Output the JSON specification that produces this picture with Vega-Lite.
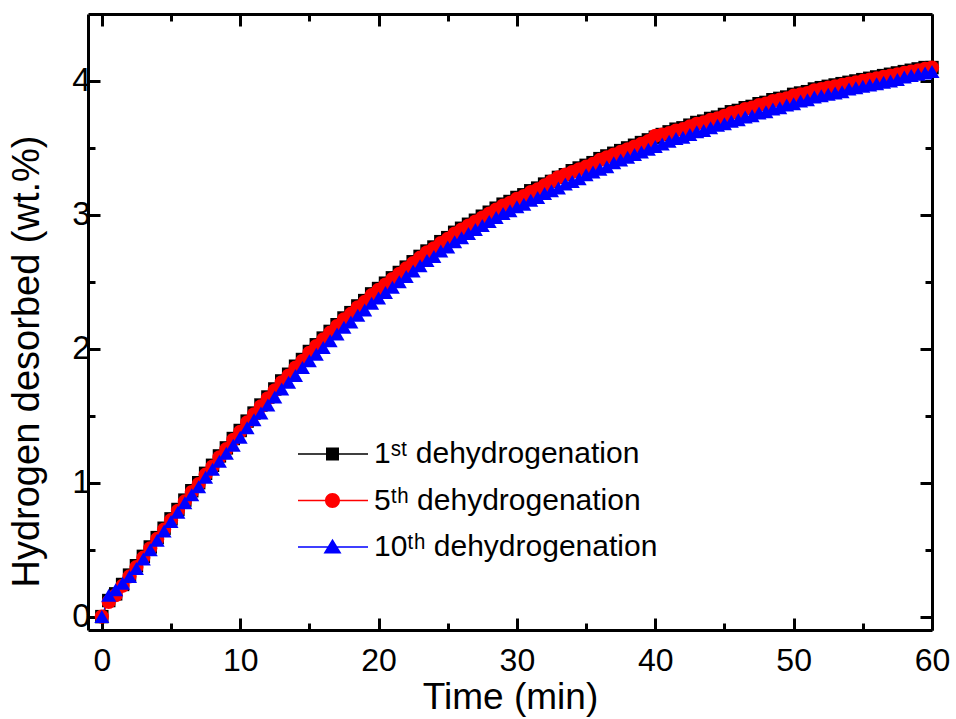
{
"$schema": "https://vega.github.io/schema/vega-lite/v6.json",
"width": 844, "height": 616,
"autosize": {"type": "none"},
"padding": {"left": 88, "top": 14, "right": 24, "bottom": 89},
"config": {"view": {"stroke": null}, "font": "Liberation Sans"},
"datasets": {
"pts": [
{"t":0,"s":"1st","v":0},{"t":0.5,"s":"1st","v":0.12},{"t":1,"s":"1st","v":0.17},{"t":1.5,"s":"1st","v":0.24},{"t":2,"s":"1st","v":0.31},{"t":2.5,"s":"1st","v":0.38},{"t":3,"s":"1st","v":0.45},{"t":3.5,"s":"1st","v":0.52},{"t":4,"s":"1st","v":0.59},{"t":4.5,"s":"1st","v":0.66},{"t":5,"s":"1st","v":0.73},{"t":5.5,"s":"1st","v":0.80},{"t":6,"s":"1st","v":0.87},{"t":6.5,"s":"1st","v":0.94},{"t":7,"s":"1st","v":1.00},{"t":7.5,"s":"1st","v":1.07},{"t":8,"s":"1st","v":1.13},{"t":8.5,"s":"1st","v":1.20},{"t":9,"s":"1st","v":1.26},{"t":9.5,"s":"1st","v":1.33},{"t":10,"s":"1st","v":1.39},{"t":10.5,"s":"1st","v":1.46},{"t":11,"s":"1st","v":1.52},{"t":11.5,"s":"1st","v":1.58},{"t":12,"s":"1st","v":1.64},{"t":12.5,"s":"1st","v":1.70},{"t":13,"s":"1st","v":1.76},{"t":13.5,"s":"1st","v":1.81},{"t":14,"s":"1st","v":1.87},{"t":14.5,"s":"1st","v":1.92},{"t":15,"s":"1st","v":1.98},{"t":15.5,"s":"1st","v":2.03},{"t":16,"s":"1st","v":2.08},{"t":16.5,"s":"1st","v":2.13},{"t":17,"s":"1st","v":2.18},{"t":17.5,"s":"1st","v":2.23},{"t":18,"s":"1st","v":2.27},{"t":18.5,"s":"1st","v":2.32},{"t":19,"s":"1st","v":2.36},{"t":19.5,"s":"1st","v":2.41},{"t":20,"s":"1st","v":2.45},{"t":20.5,"s":"1st","v":2.49},{"t":21,"s":"1st","v":2.53},{"t":21.5,"s":"1st","v":2.57},{"t":22,"s":"1st","v":2.61},{"t":22.5,"s":"1st","v":2.65},{"t":23,"s":"1st","v":2.69},{"t":23.5,"s":"1st","v":2.73},{"t":24,"s":"1st","v":2.76},{"t":24.5,"s":"1st","v":2.80},{"t":25,"s":"1st","v":2.83},{"t":25.5,"s":"1st","v":2.87},{"t":26,"s":"1st","v":2.90},{"t":26.5,"s":"1st","v":2.93},{"t":27,"s":"1st","v":2.96},{"t":27.5,"s":"1st","v":2.99},{"t":28,"s":"1st","v":3.02},{"t":28.5,"s":"1st","v":3.05},{"t":29,"s":"1st","v":3.08},{"t":29.5,"s":"1st","v":3.10},{"t":30,"s":"1st","v":3.13},{"t":30.5,"s":"1st","v":3.15},{"t":31,"s":"1st","v":3.18},{"t":31.5,"s":"1st","v":3.20},{"t":32,"s":"1st","v":3.23},{"t":32.5,"s":"1st","v":3.25},{"t":33,"s":"1st","v":3.28},{"t":33.5,"s":"1st","v":3.30},{"t":34,"s":"1st","v":3.33},{"t":34.5,"s":"1st","v":3.35},{"t":35,"s":"1st","v":3.37},{"t":35.5,"s":"1st","v":3.39},{"t":36,"s":"1st","v":3.42},{"t":36.5,"s":"1st","v":3.44},{"t":37,"s":"1st","v":3.46},{"t":37.5,"s":"1st","v":3.48},{"t":38,"s":"1st","v":3.50},{"t":38.5,"s":"1st","v":3.52},{"t":39,"s":"1st","v":3.54},{"t":39.5,"s":"1st","v":3.56},{"t":40,"s":"1st","v":3.58},{"t":40.5,"s":"1st","v":3.60},{"t":41,"s":"1st","v":3.62},{"t":41.5,"s":"1st","v":3.64},{"t":42,"s":"1st","v":3.65},{"t":42.5,"s":"1st","v":3.67},{"t":43,"s":"1st","v":3.69},{"t":43.5,"s":"1st","v":3.70},{"t":44,"s":"1st","v":3.72},{"t":44.5,"s":"1st","v":3.73},{"t":45,"s":"1st","v":3.75},{"t":45.5,"s":"1st","v":3.77},{"t":46,"s":"1st","v":3.78},{"t":46.5,"s":"1st","v":3.80},{"t":47,"s":"1st","v":3.81},{"t":47.5,"s":"1st","v":3.83},{"t":48,"s":"1st","v":3.84},{"t":48.5,"s":"1st","v":3.86},{"t":49,"s":"1st","v":3.87},{"t":49.5,"s":"1st","v":3.88},{"t":50,"s":"1st","v":3.90},{"t":50.5,"s":"1st","v":3.91},{"t":51,"s":"1st","v":3.92},{"t":51.5,"s":"1st","v":3.94},{"t":52,"s":"1st","v":3.95},{"t":52.5,"s":"1st","v":3.96},{"t":53,"s":"1st","v":3.97},{"t":53.5,"s":"1st","v":3.98},{"t":54,"s":"1st","v":3.99},{"t":54.5,"s":"1st","v":4.00},{"t":55,"s":"1st","v":4.01},{"t":55.5,"s":"1st","v":4.02},{"t":56,"s":"1st","v":4.03},{"t":56.5,"s":"1st","v":4.04},{"t":57,"s":"1st","v":4.05},{"t":57.5,"s":"1st","v":4.06},{"t":58,"s":"1st","v":4.07},{"t":58.5,"s":"1st","v":4.08},{"t":59,"s":"1st","v":4.09},{"t":59.5,"s":"1st","v":4.10},{"t":60,"s":"1st","v":4.10},
{"t":0,"s":"5th","v":0},{"t":0.5,"s":"5th","v":0.11},{"t":1,"s":"5th","v":0.16},{"t":1.5,"s":"5th","v":0.23},{"t":2,"s":"5th","v":0.30},{"t":2.5,"s":"5th","v":0.37},{"t":3,"s":"5th","v":0.44},{"t":3.5,"s":"5th","v":0.51},{"t":4,"s":"5th","v":0.58},{"t":4.5,"s":"5th","v":0.65},{"t":5,"s":"5th","v":0.72},{"t":5.5,"s":"5th","v":0.79},{"t":6,"s":"5th","v":0.86},{"t":6.5,"s":"5th","v":0.93},{"t":7,"s":"5th","v":0.99},{"t":7.5,"s":"5th","v":1.06},{"t":8,"s":"5th","v":1.12},{"t":8.5,"s":"5th","v":1.19},{"t":9,"s":"5th","v":1.25},{"t":9.5,"s":"5th","v":1.32},{"t":10,"s":"5th","v":1.38},{"t":10.5,"s":"5th","v":1.45},{"t":11,"s":"5th","v":1.51},{"t":11.5,"s":"5th","v":1.57},{"t":12,"s":"5th","v":1.63},{"t":12.5,"s":"5th","v":1.69},{"t":13,"s":"5th","v":1.75},{"t":13.5,"s":"5th","v":1.80},{"t":14,"s":"5th","v":1.86},{"t":14.5,"s":"5th","v":1.91},{"t":15,"s":"5th","v":1.97},{"t":15.5,"s":"5th","v":2.02},{"t":16,"s":"5th","v":2.07},{"t":16.5,"s":"5th","v":2.12},{"t":17,"s":"5th","v":2.17},{"t":17.5,"s":"5th","v":2.22},{"t":18,"s":"5th","v":2.26},{"t":18.5,"s":"5th","v":2.31},{"t":19,"s":"5th","v":2.35},{"t":19.5,"s":"5th","v":2.40},{"t":20,"s":"5th","v":2.44},{"t":20.5,"s":"5th","v":2.48},{"t":21,"s":"5th","v":2.52},{"t":21.5,"s":"5th","v":2.56},{"t":22,"s":"5th","v":2.60},{"t":22.5,"s":"5th","v":2.64},{"t":23,"s":"5th","v":2.68},{"t":23.5,"s":"5th","v":2.72},{"t":24,"s":"5th","v":2.75},{"t":24.5,"s":"5th","v":2.79},{"t":25,"s":"5th","v":2.82},{"t":25.5,"s":"5th","v":2.86},{"t":26,"s":"5th","v":2.89},{"t":26.5,"s":"5th","v":2.92},{"t":27,"s":"5th","v":2.95},{"t":27.5,"s":"5th","v":2.98},{"t":28,"s":"5th","v":3.01},{"t":28.5,"s":"5th","v":3.04},{"t":29,"s":"5th","v":3.07},{"t":29.5,"s":"5th","v":3.09},{"t":30,"s":"5th","v":3.12},{"t":30.5,"s":"5th","v":3.14},{"t":31,"s":"5th","v":3.17},{"t":31.5,"s":"5th","v":3.19},{"t":32,"s":"5th","v":3.22},{"t":32.5,"s":"5th","v":3.25},{"t":33,"s":"5th","v":3.28},{"t":33.5,"s":"5th","v":3.30},{"t":34,"s":"5th","v":3.32},{"t":34.5,"s":"5th","v":3.34},{"t":35,"s":"5th","v":3.36},{"t":35.5,"s":"5th","v":3.38},{"t":36,"s":"5th","v":3.41},{"t":36.5,"s":"5th","v":3.43},{"t":37,"s":"5th","v":3.45},{"t":37.5,"s":"5th","v":3.47},{"t":38,"s":"5th","v":3.49},{"t":38.5,"s":"5th","v":3.51},{"t":39,"s":"5th","v":3.53},{"t":39.5,"s":"5th","v":3.55},{"t":40,"s":"5th","v":3.59},{"t":40.5,"s":"5th","v":3.60},{"t":41,"s":"5th","v":3.61},{"t":41.5,"s":"5th","v":3.63},{"t":42,"s":"5th","v":3.64},{"t":42.5,"s":"5th","v":3.66},{"t":43,"s":"5th","v":3.68},{"t":43.5,"s":"5th","v":3.69},{"t":44,"s":"5th","v":3.71},{"t":44.5,"s":"5th","v":3.72},{"t":45,"s":"5th","v":3.74},{"t":45.5,"s":"5th","v":3.76},{"t":46,"s":"5th","v":3.77},{"t":46.5,"s":"5th","v":3.79},{"t":47,"s":"5th","v":3.80},{"t":47.5,"s":"5th","v":3.82},{"t":48,"s":"5th","v":3.83},{"t":48.5,"s":"5th","v":3.85},{"t":49,"s":"5th","v":3.86},{"t":49.5,"s":"5th","v":3.87},{"t":50,"s":"5th","v":3.89},{"t":50.5,"s":"5th","v":3.90},{"t":51,"s":"5th","v":3.91},{"t":51.5,"s":"5th","v":3.93},{"t":52,"s":"5th","v":3.94},{"t":52.5,"s":"5th","v":3.95},{"t":53,"s":"5th","v":3.96},{"t":53.5,"s":"5th","v":3.97},{"t":54,"s":"5th","v":3.98},{"t":54.5,"s":"5th","v":3.99},{"t":55,"s":"5th","v":4.00},{"t":55.5,"s":"5th","v":4.01},{"t":56,"s":"5th","v":4.02},{"t":56.5,"s":"5th","v":4.03},{"t":57,"s":"5th","v":4.04},{"t":57.5,"s":"5th","v":4.05},{"t":58,"s":"5th","v":4.06},{"t":58.5,"s":"5th","v":4.07},{"t":59,"s":"5th","v":4.08},{"t":59.5,"s":"5th","v":4.09},{"t":60,"s":"5th","v":4.10},
{"t":0,"s":"10th","v":0},{"t":0.5,"s":"10th","v":0.16},{"t":1,"s":"10th","v":0.20},{"t":1.5,"s":"10th","v":0.25},{"t":2,"s":"10th","v":0.30},{"t":2.5,"s":"10th","v":0.36},{"t":3,"s":"10th","v":0.43},{"t":3.5,"s":"10th","v":0.50},{"t":4,"s":"10th","v":0.57},{"t":4.5,"s":"10th","v":0.64},{"t":5,"s":"10th","v":0.71},{"t":5.5,"s":"10th","v":0.78},{"t":6,"s":"10th","v":0.85},{"t":6.5,"s":"10th","v":0.91},{"t":7,"s":"10th","v":0.97},{"t":7.5,"s":"10th","v":1.04},{"t":8,"s":"10th","v":1.10},{"t":8.5,"s":"10th","v":1.16},{"t":9,"s":"10th","v":1.22},{"t":9.5,"s":"10th","v":1.28},{"t":10,"s":"10th","v":1.34},{"t":10.5,"s":"10th","v":1.41},{"t":11,"s":"10th","v":1.47},{"t":11.5,"s":"10th","v":1.52},{"t":12,"s":"10th","v":1.58},{"t":12.5,"s":"10th","v":1.64},{"t":13,"s":"10th","v":1.70},{"t":13.5,"s":"10th","v":1.75},{"t":14,"s":"10th","v":1.80},{"t":14.5,"s":"10th","v":1.86},{"t":15,"s":"10th","v":1.91},{"t":15.5,"s":"10th","v":1.96},{"t":16,"s":"10th","v":2.01},{"t":16.5,"s":"10th","v":2.06},{"t":17,"s":"10th","v":2.11},{"t":17.5,"s":"10th","v":2.16},{"t":18,"s":"10th","v":2.20},{"t":18.5,"s":"10th","v":2.25},{"t":19,"s":"10th","v":2.29},{"t":19.5,"s":"10th","v":2.34},{"t":20,"s":"10th","v":2.38},{"t":20.5,"s":"10th","v":2.42},{"t":21,"s":"10th","v":2.46},{"t":21.5,"s":"10th","v":2.50},{"t":22,"s":"10th","v":2.54},{"t":22.5,"s":"10th","v":2.58},{"t":23,"s":"10th","v":2.62},{"t":23.5,"s":"10th","v":2.66},{"t":24,"s":"10th","v":2.69},{"t":24.5,"s":"10th","v":2.73},{"t":25,"s":"10th","v":2.76},{"t":25.5,"s":"10th","v":2.80},{"t":26,"s":"10th","v":2.83},{"t":26.5,"s":"10th","v":2.86},{"t":27,"s":"10th","v":2.89},{"t":27.5,"s":"10th","v":2.92},{"t":28,"s":"10th","v":2.95},{"t":28.5,"s":"10th","v":2.98},{"t":29,"s":"10th","v":3.01},{"t":29.5,"s":"10th","v":3.03},{"t":30,"s":"10th","v":3.06},{"t":30.5,"s":"10th","v":3.08},{"t":31,"s":"10th","v":3.11},{"t":31.5,"s":"10th","v":3.13},{"t":32,"s":"10th","v":3.16},{"t":32.5,"s":"10th","v":3.18},{"t":33,"s":"10th","v":3.20},{"t":33.5,"s":"10th","v":3.23},{"t":34,"s":"10th","v":3.25},{"t":34.5,"s":"10th","v":3.27},{"t":35,"s":"10th","v":3.30},{"t":35.5,"s":"10th","v":3.32},{"t":36,"s":"10th","v":3.34},{"t":36.5,"s":"10th","v":3.36},{"t":37,"s":"10th","v":3.39},{"t":37.5,"s":"10th","v":3.41},{"t":38,"s":"10th","v":3.43},{"t":38.5,"s":"10th","v":3.45},{"t":39,"s":"10th","v":3.47},{"t":39.5,"s":"10th","v":3.49},{"t":40,"s":"10th","v":3.51},{"t":40.5,"s":"10th","v":3.53},{"t":41,"s":"10th","v":3.55},{"t":41.5,"s":"10th","v":3.57},{"t":42,"s":"10th","v":3.58},{"t":42.5,"s":"10th","v":3.60},{"t":43,"s":"10th","v":3.62},{"t":43.5,"s":"10th","v":3.63},{"t":44,"s":"10th","v":3.65},{"t":44.5,"s":"10th","v":3.67},{"t":45,"s":"10th","v":3.68},{"t":45.5,"s":"10th","v":3.70},{"t":46,"s":"10th","v":3.71},{"t":46.5,"s":"10th","v":3.73},{"t":47,"s":"10th","v":3.74},{"t":47.5,"s":"10th","v":3.76},{"t":48,"s":"10th","v":3.77},{"t":48.5,"s":"10th","v":3.79},{"t":49,"s":"10th","v":3.80},{"t":49.5,"s":"10th","v":3.82},{"t":50,"s":"10th","v":3.83},{"t":50.5,"s":"10th","v":3.85},{"t":51,"s":"10th","v":3.86},{"t":51.5,"s":"10th","v":3.88},{"t":52,"s":"10th","v":3.89},{"t":52.5,"s":"10th","v":3.90},{"t":53,"s":"10th","v":3.91},{"t":53.5,"s":"10th","v":3.92},{"t":54,"s":"10th","v":3.94},{"t":54.5,"s":"10th","v":3.95},{"t":55,"s":"10th","v":3.96},{"t":55.5,"s":"10th","v":3.97},{"t":56,"s":"10th","v":3.98},{"t":56.5,"s":"10th","v":3.99},{"t":57,"s":"10th","v":4.00},{"t":57.5,"s":"10th","v":4.01},{"t":58,"s":"10th","v":4.03},{"t":58.5,"s":"10th","v":4.04},{"t":59,"s":"10th","v":4.05},{"t":59.5,"s":"10th","v":4.06},{"t":60,"s":"10th","v":4.07}
]},
"data": {"name": "pts"},
"layer": [
{
"mark": {"type": "line", "strokeWidth": 1},
"encoding": {
"x": {"field": "t", "type": "quantitative", "scale": {"domain": [-1, 60], "nice": false, "zero": false},
 "axis": {"orient": "bottom", "values": [0,5,10,15,20,25,30,35,40,45,50,55,60], "grid": false,
  "labelExpr": "datum.value % 10 === 0 ? datum.label : ''",
  "tickSize": {"condition": {"test": "datum.value % 10 === 0", "value": -12}, "value": -7},
  "tickWidth": 3, "tickColor": "black", "domainWidth": 3, "domainColor": "black",
  "labelFontSize": 32, "labelColor": "black", "labelPadding": 27, "labelFlush": false, "labelOverlap": false,
  "title": "Time (min)", "titleFontSize": 37, "titleFontWeight": "normal", "titleColor": "black", "titlePadding": -2}},
"y": {"field": "v", "type": "quantitative", "scale": {"domain": [-0.1, 4.5], "nice": false, "zero": false},
 "axis": {"orient": "left", "values": [0,0.5,1,1.5,2,2.5,3,3.5,4], "grid": false,
  "labelExpr": "datum.value % 1 === 0 ? format(datum.value, 'd') : ''",
  "tickSize": {"condition": {"test": "datum.value % 1 === 0", "value": -12}, "value": -7},
  "tickWidth": 3, "tickColor": "black", "domainWidth": 3, "domainColor": "black",
  "labelFontSize": 33, "labelColor": "black", "labelPadding": 10, "labelFlush": false, "labelOverlap": false,
  "title": "Hydrogen desorbed (wt.%)", "titleFontSize": 38, "titleFontWeight": "normal", "titleColor": "black", "titleX": -42, "titleY": 347}},
"stroke": {"field": "s", "type": "nominal", "scale": {"domain": ["10th", "5th", "1st"], "range": ["#0000FF", "#FF0000", "#000000"]}, "legend": null},
"detail": {"field": "s"}
}
},
{
"mark": {"type": "point", "filled": true, "opacity": 1},
"encoding": {
"x": {"field": "t", "type": "quantitative",
 "axis": {"orient": "top", "values": [0,5,10,15,20,25,30,35,40,45,50,55,60], "grid": false, "labels": false, "title": null,
  "tickSize": {"condition": {"test": "datum.value % 10 === 0", "value": -12}, "value": -7},
  "tickWidth": 3, "tickColor": "black", "domainWidth": 3, "domainColor": "black"}},
"y": {"field": "v", "type": "quantitative",
 "axis": {"orient": "right", "values": [0,0.5,1,1.5,2,2.5,3,3.5,4], "grid": false, "labels": false, "title": null,
  "tickSize": {"condition": {"test": "datum.value % 1 === 0", "value": -12}, "value": -7},
  "tickWidth": 3, "tickColor": "black", "domainWidth": 3, "domainColor": "black"}},
"color": {"field": "s", "type": "nominal", "scale": {"domain": ["1st", "5th", "10th"], "range": ["#000000", "#FF0000", "#0000FF"]},
 "legend": {"orient": "none", "legendX": 210, "legendY": 425, "title": null, "padding": 0,
  "symbolSize": 900, "symbolStrokeWidth": 0, "symbolOpacity": 1, "labelFontSize": 30, "labelColor": "black", "labelOffset": 46, "rowPadding": 16.5, "labelLimit": 0,
  "symbolType": {"expr": "datum.value == '1st' ? 'M-1,-0.045H3.667V0.045H-1ZM0.867,-0.433H1.733V0.433H0.867Z' : datum.value == '5th' ? 'M-1,-0.045H3.667V0.045H-1ZM0.8,0A0.5,0.5,0,1,1,1.8,0A0.5,0.5,0,1,1,0.8,0Z' : 'M-1,-0.045H3.667V0.045H-1ZM0.7,0.43L1.3,-0.55L1.9,0.43Z'"},
  "labelExpr": "datum.value == '1st' ? '1ˢᵗ dehydrogenation' : datum.value == '5th' ? '5ᵗʰ dehydrogenation' : '10ᵗʰ dehydrogenation'"}},
"shape": {"field": "s", "type": "nominal", "scale": {"domain": ["10th", "5th", "1st"], "range": ["triangle-up", "circle", "square"]}, "legend": null},
"size": {"field": "s", "type": "nominal", "scale": {"domain": ["10th", "5th", "1st"], "range": [225, 180, 144]}, "legend": null}
}
}
],
"resolve": {"axis": {"x": "independent", "y": "independent"}}
}
